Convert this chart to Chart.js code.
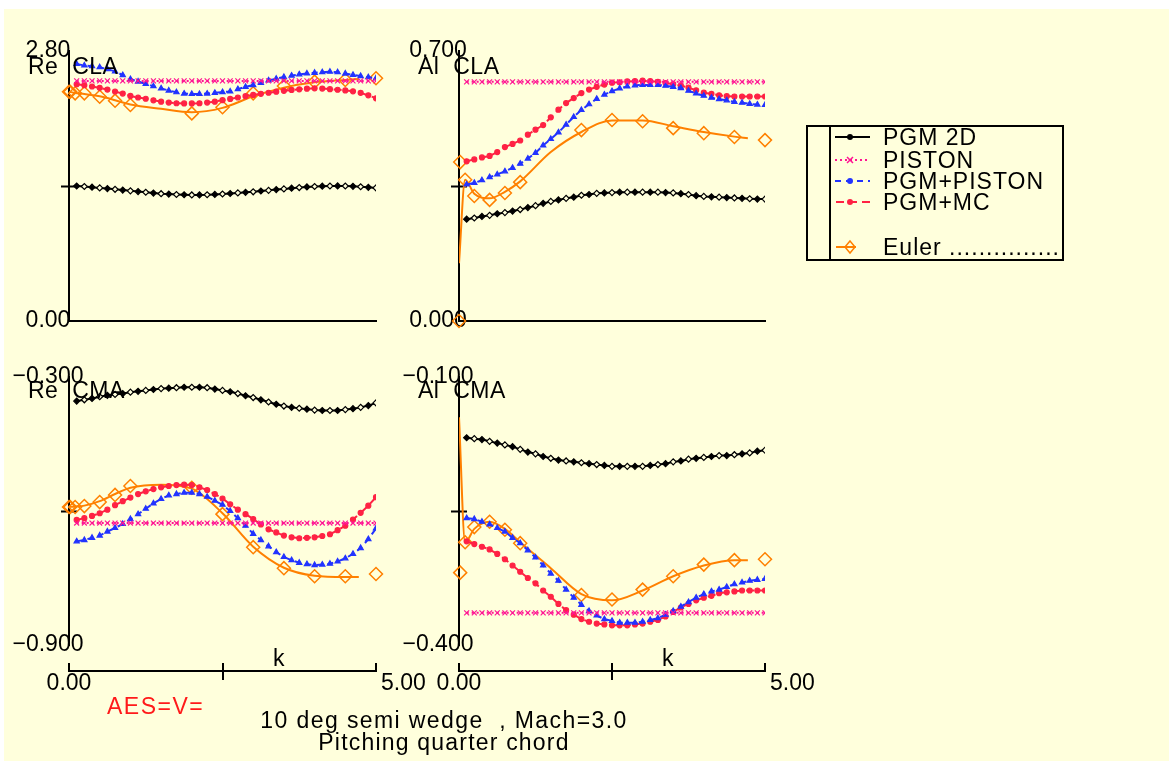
<!DOCTYPE html>
<html>
<head>
<meta charset="utf-8">
<script src="https://cdn.jsdelivr.net/npm/chart.js@4.4.0/dist/chart.umd.min.js"></script>
<style>
  body { margin: 0; width: 1169px; height: 761px; overflow: hidden; position: relative; background: #fff;
         font-family: "Liberation Sans", Arial, sans-serif; }
  #sheet { position: absolute; left: 4px; top: 9px; width: 1165px; height: 752px; background: #ffffdc; }
  canvas { position: absolute; left: 0; top: 0; }
  .t { position: absolute; font-size: 23px; line-height: 23px; white-space: pre; color: #000; letter-spacing: 0.5px; }
  #legend { position: absolute; left: 806px; top: 125px; width: 254px; height: 132px; border: 2px solid #000; }
  #legend .t { letter-spacing: 1px; }
</style>
</head>
<body>
<div id="sheet"></div>
<canvas id="reCLA" width="1169" height="761"></canvas>
<canvas id="alCLA" width="1169" height="761"></canvas>
<canvas id="reCMA" width="1169" height="761"></canvas>
<canvas id="alCMA" width="1169" height="761"></canvas>
<canvas id="axisL" width="1169" height="761"></canvas>
<canvas id="axisR" width="1169" height="761"></canvas>

<div class="t" style="left:28px;top:55px">Re  CLA</div>
<div class="t" style="left:418px;top:55px">Al  CLA</div>
<div class="t" style="left:28px;top:379px">Re  CMA</div>
<div class="t" style="left:418px;top:379px">Al  CMA</div>
<div class="t" style="left:273px;top:647px">k</div>
<div class="t" style="left:662px;top:647px">k</div>
<div class="t" style="left:107px;top:695px;color:#ff1a1a;letter-spacing:1.5px">AES=V=</div>
<div class="t" style="left:194px;top:709px;width:500px;text-align:center;letter-spacing:1.4px">10 deg semi wedge  , Mach=3.0</div>
<div class="t" style="left:194px;top:731px;width:500px;text-align:center;letter-spacing:1.2px">Pitching quarter chord</div>

<div id="legend">
  <svg width="254" height="132" style="position:absolute;left:0;top:0">
    <line x1="22" y1="0" x2="22" y2="132" stroke="#000" stroke-width="2"/>
    <line x1="27" y1="10" x2="62" y2="10" stroke="#000" stroke-width="2"/>
    <circle cx="42" cy="10" r="3" fill="#000"/>
    <line x1="27" y1="33" x2="62" y2="33" stroke="#ff1493" stroke-width="2" stroke-dasharray="2 3"/>
    <path d="M39 30 L45 36 M45 30 L39 36" stroke="#ff1493" stroke-width="1.5"/>
    <line x1="27" y1="54" x2="62" y2="54" stroke="#2233ff" stroke-width="2" stroke-dasharray="6 5"/>
    <circle cx="42" cy="54" r="3" fill="#2233ff"/>
    <line x1="28" y1="75" x2="62" y2="75" stroke="#ff2244" stroke-width="2" stroke-dasharray="8 5"/>
    <circle cx="42" cy="75" r="3" fill="#ff2244"/>
    <line x1="28" y1="120" x2="48" y2="120" stroke="#ff8000" stroke-width="2"/>
    <path d="M42 114 L47 120 L42 126 L37 120 Z" fill="none" stroke="#ff8000" stroke-width="1.5"/>
  </svg>
  <div class="t" style="left:75px;top:-1px">PGM 2D</div>
  <div class="t" style="left:75px;top:22px">PISTON</div>
  <div class="t" style="left:75px;top:43px">PGM+PISTON</div>
  <div class="t" style="left:75px;top:64px">PGM+MC</div>
  <div class="t" style="left:75px;top:109px">Euler ...............</div>
</div>

<script>
// reduced frequency k for the model curves
const kGrid = [0.125, 0.25, 0.375, 0.5, 0.625, 0.75, 0.875, 1, 1.125, 1.25, 1.375, 1.5, 1.625, 1.75, 1.875, 2,
  2.125, 2.25, 2.375, 2.5, 2.625, 2.75, 2.875, 3, 3.125, 3.25, 3.375, 3.5, 3.625, 3.75, 3.875, 4,
  4.125, 4.25, 4.375, 4.5, 4.625, 4.75, 4.875, 5];

// Euler points and the fitted Euler curve
const eulerK = [0, 0.02, 0.1, 0.25, 0.5, 0.75, 1, 2, 2.5, 3, 3.5, 4, 4.5, 5];
const eulerLineK = [0, 0.1, 0.25, 0.5, 0.75, 1, 1.5, 2, 2.5, 3, 3.5, 4, 4.5, 4.72];

// Re CLA
const reCLA_pgm2d = [1.400, 1.395, 1.388, 1.380, 1.373, 1.366, 1.358, 1.350, 1.342, 1.335, 1.327, 1.320, 1.316, 1.312, 1.309, 1.307,
  1.307, 1.309, 1.313, 1.317, 1.322, 1.328, 1.334, 1.340, 1.348, 1.355, 1.363, 1.370, 1.377, 1.384, 1.390, 1.395,
  1.398, 1.400, 1.401, 1.400, 1.397, 1.392, 1.386, 1.380];
const reCLA_piston = [2.49, 2.49, 2.49, 2.49, 2.49, 2.49, 2.49, 2.49, 2.49, 2.49, 2.49, 2.49, 2.49, 2.49, 2.49, 2.49,
  2.49, 2.49, 2.49, 2.49, 2.49, 2.49, 2.49, 2.49, 2.49, 2.49, 2.49, 2.49, 2.49, 2.49, 2.49, 2.49,
  2.49, 2.49, 2.49, 2.49, 2.49, 2.49, 2.49, 2.49];
const reCLA_pgmPiston = [2.665, 2.650, 2.642, 2.632, 2.612, 2.588, 2.550, 2.508, 2.483, 2.460, 2.435, 2.412, 2.390, 2.372, 2.358, 2.354,
  2.354, 2.358, 2.366, 2.374, 2.380, 2.405, 2.428, 2.447, 2.470, 2.495, 2.513, 2.530, 2.545, 2.558, 2.567, 2.574,
  2.580, 2.585, 2.580, 2.566, 2.552, 2.540, 2.528, 2.517];
const reCLA_pgmMc = [2.455, 2.445, 2.432, 2.418, 2.400, 2.380, 2.358, 2.334, 2.318, 2.305, 2.288, 2.275, 2.265, 2.258, 2.256, 2.256,
  2.258, 2.265, 2.275, 2.290, 2.303, 2.318, 2.332, 2.344, 2.356, 2.367, 2.378, 2.387, 2.396, 2.403, 2.409, 2.413,
  2.410, 2.404, 2.398, 2.391, 2.382, 2.366, 2.340, 2.309];
const reCLA_euler = [2.378, 2.378, 2.361, 2.361, 2.326, 2.285, 2.240, 2.153, 2.216, 2.361, 2.437, 2.482, 2.500, 2.517];
const reCLA_eulerLine = [2.378, 2.365, 2.355, 2.330, 2.290, 2.245, 2.200, 2.165, 2.210, 2.330, 2.420, 2.475, 2.500, 2.510];

// Al CLA
const alCLA_pgm2d = [0.264, 0.267, 0.271, 0.274, 0.278, 0.281, 0.285, 0.289, 0.294, 0.299, 0.305, 0.310, 0.314, 0.318, 0.321, 0.326,
  0.328, 0.331, 0.332, 0.333, 0.334, 0.334, 0.334, 0.334, 0.334, 0.334, 0.333, 0.332, 0.330, 0.328, 0.325, 0.323,
  0.322, 0.321, 0.320, 0.319, 0.318, 0.317, 0.316, 0.316];
const alCLA_piston = [0.62, 0.62, 0.62, 0.62, 0.62, 0.62, 0.62, 0.62, 0.62, 0.62, 0.62, 0.62, 0.62, 0.62, 0.62, 0.62,
  0.62, 0.62, 0.62, 0.62, 0.62, 0.62, 0.62, 0.62, 0.62, 0.62, 0.62, 0.62, 0.62, 0.62, 0.62, 0.62,
  0.62, 0.62, 0.62, 0.62, 0.62, 0.62, 0.62, 0.62];
const alCLA_pgmPiston = [0.354, 0.358, 0.365, 0.373, 0.380, 0.388, 0.397, 0.408, 0.421, 0.436, 0.455, 0.472, 0.489, 0.509, 0.529, 0.547,
  0.562, 0.576, 0.587, 0.596, 0.603, 0.608, 0.611, 0.612, 0.612, 0.612, 0.610, 0.607, 0.604, 0.597, 0.590, 0.584,
  0.579, 0.575, 0.572, 0.568, 0.566, 0.563, 0.561, 0.560];
const alCLA_pgmMc = [0.414, 0.419, 0.424, 0.428, 0.438, 0.451, 0.459, 0.468, 0.483, 0.496, 0.508, 0.528, 0.548, 0.565, 0.578, 0.591,
  0.600, 0.607, 0.613, 0.618, 0.619, 0.621, 0.622, 0.623, 0.622, 0.620, 0.617, 0.614, 0.610, 0.605, 0.598, 0.592,
  0.589, 0.585, 0.583, 0.582, 0.582, 0.582, 0.582, 0.582];
const alCLA_euler = [0, 0.412, 0.366, 0.324, 0.314, 0.332, 0.360, 0.495, 0.521, 0.518, 0.500, 0.487, 0.477, 0.469];
const alCLA_eulerLine = [0.150, 0.366, 0.330, 0.318, 0.335, 0.362, 0.438, 0.490, 0.520, 0.520, 0.505, 0.490, 0.478, 0.474];

// Re CMA
const reCMA_pgm2d = [-0.354, -0.351, -0.348, -0.344, -0.341, -0.339, -0.337, -0.334, -0.332, -0.330, -0.328, -0.326, -0.325, -0.324, -0.323, -0.323,
  -0.323, -0.324, -0.327, -0.330, -0.333, -0.337, -0.342, -0.346, -0.351, -0.356, -0.361, -0.365, -0.368, -0.370, -0.372, -0.374,
  -0.375, -0.375, -0.375, -0.373, -0.371, -0.368, -0.364, -0.358];
const reCMA_piston = [-0.627, -0.627, -0.627, -0.627, -0.627, -0.627, -0.627, -0.627, -0.627, -0.627, -0.627, -0.627, -0.627, -0.627, -0.627, -0.627,
  -0.627, -0.627, -0.627, -0.627, -0.627, -0.627, -0.627, -0.627, -0.627, -0.627, -0.627, -0.627, -0.627, -0.627, -0.627, -0.627,
  -0.627, -0.627, -0.627, -0.627, -0.627, -0.627, -0.627, -0.627];
const reCMA_pgmPiston = [-0.668, -0.665, -0.660, -0.655, -0.646, -0.638, -0.629, -0.618, -0.607, -0.595, -0.583, -0.573, -0.565, -0.562, -0.559, -0.559,
  -0.562, -0.568, -0.577, -0.586, -0.600, -0.616, -0.633, -0.651, -0.665, -0.679, -0.692, -0.703, -0.710, -0.716, -0.719, -0.721,
  -0.720, -0.718, -0.713, -0.706, -0.696, -0.683, -0.663, -0.639];
const reCMA_pgmMc = [-0.620, -0.616, -0.611, -0.605, -0.597, -0.587, -0.578, -0.570, -0.562, -0.556, -0.551, -0.547, -0.544, -0.542, -0.541, -0.542,
  -0.547, -0.553, -0.562, -0.572, -0.585, -0.597, -0.607, -0.618, -0.630, -0.641, -0.648, -0.655, -0.659, -0.661, -0.660, -0.659,
  -0.656, -0.652, -0.643, -0.633, -0.619, -0.604, -0.588, -0.569];
const reCMA_euler = [-0.591, -0.591, -0.591, -0.589, -0.580, -0.564, -0.544, -0.548, -0.607, -0.681, -0.728, -0.746, -0.746, -0.741];
const reCMA_eulerLine = [-0.591, -0.590, -0.588, -0.578, -0.562, -0.548, -0.541, -0.550, -0.605, -0.680, -0.727, -0.745, -0.748, -0.748];

// Al CMA
const alCMA_pgm2d = [-0.168, -0.169, -0.170, -0.172, -0.174, -0.176, -0.178, -0.181, -0.184, -0.186, -0.189, -0.191, -0.193, -0.194, -0.195, -0.196,
  -0.197, -0.198, -0.199, -0.200, -0.200, -0.200, -0.200, -0.200, -0.199, -0.198, -0.197, -0.195, -0.194, -0.192, -0.191, -0.190,
  -0.189, -0.188, -0.188, -0.187, -0.186, -0.185, -0.183, -0.182];
const alCMA_piston = [-0.364, -0.364, -0.364, -0.364, -0.364, -0.364, -0.364, -0.364, -0.364, -0.364, -0.364, -0.364, -0.364, -0.364, -0.364, -0.364,
  -0.364, -0.364, -0.364, -0.364, -0.364, -0.364, -0.364, -0.364, -0.364, -0.364, -0.364, -0.364, -0.364, -0.364, -0.364, -0.364,
  -0.364, -0.364, -0.364, -0.364, -0.364, -0.364, -0.364, -0.364];
const alCMA_pgmPiston = [-0.258, -0.259, -0.262, -0.265, -0.269, -0.273, -0.280, -0.286, -0.294, -0.302, -0.311, -0.320, -0.328, -0.338, -0.347, -0.355,
  -0.362, -0.367, -0.371, -0.373, -0.375, -0.375, -0.375, -0.374, -0.372, -0.370, -0.366, -0.362, -0.357, -0.352, -0.347, -0.343,
  -0.340, -0.338, -0.335, -0.332, -0.330, -0.328, -0.327, -0.326];
const alCMA_pgmMc = [-0.284, -0.287, -0.290, -0.293, -0.298, -0.304, -0.311, -0.318, -0.325, -0.331, -0.339, -0.346, -0.354, -0.361, -0.366, -0.371,
  -0.374, -0.376, -0.377, -0.378, -0.378, -0.378, -0.377, -0.376, -0.374, -0.372, -0.368, -0.363, -0.358, -0.354, -0.350, -0.347,
  -0.345, -0.342, -0.341, -0.340, -0.339, -0.339, -0.339, -0.339];
const alCMA_euler = [null, -0.319, -0.285, -0.268, -0.262, -0.271, -0.286, -0.344, -0.349, -0.338, -0.323, -0.310, -0.305, -0.304];
const alCMA_eulerLine = [-0.145, -0.285, -0.270, -0.262, -0.270, -0.285, -0.314, -0.343, -0.350, -0.339, -0.323, -0.311, -0.305, -0.305];

// axis tick labels (min, mid, max)
const reCLA_ticks = ['0.00', '', '2.80'];
const alCLA_ticks = ['0.000', '', '0.700'];
const reCMA_ticks = ['\u22120.900', '', '\u22120.300'];
const alCMA_ticks = ['\u22120.400', '', '\u22120.100'];
const xTickLabels = ['0.00', '5.00'];

const W = 1169, H = 761;
const FAMILY = '"Liberation Sans", Arial, sans-serif';
const tickFont = { family: FAMILY, size: 23 };
const clear = 'rgba(0,0,0,0)';

const seriesStyles = [
  { color: '#000000', dash: [], point: 'rectRot', r: 3 },
  { color: '#ff1493', dash: [2, 3], point: 'crossRot', r: 3.5 },
  { color: '#2233ff', dash: [6, 5], point: 'triangle', r: 3 },
  { color: '#ff2244', dash: [8, 5], point: 'circle', r: 2.5 },
];
const orange = '#ff8000';

function pts(xs, ys) {
  return xs.map((x, i) => ({ x: x, y: ys[i] }));
}

// mirrored labels: left edge offset so the label sits centred ~21px left of the axis
function labelPad(labels) {
  const c = document.createElement('canvas').getContext('2d');
  c.font = '23px ' + FAMILY;
  const w = Math.max(...labels.map(s => c.measureText(s).width));
  return -21 - w / 2;
}

function makePanel(id, area, yMin, yMax, yLabels, series, euler, eulerLine, showX) {
  const datasets = series.map((vals, i) => {
    const s = seriesStyles[i];
    return {
      data: pts(kGrid, vals),
      borderColor: s.color,
      borderWidth: 2,
      borderDash: s.dash,
      pointStyle: s.point,
      pointRadius: s.r,
      pointBorderColor: s.color,
      pointBorderWidth: 1.2,
      pointBackgroundColor: i === 0 ? (c => c.dataIndex % 2 ? '#ffffdc' : '#000') : s.color,
      tension: 0,
    };
  });
  datasets.push({
    data: pts(eulerK, euler),
    showLine: false,
    pointStyle: 'rectRot',
    pointRadius: 6.5,
    pointBorderColor: orange,
    pointBorderWidth: 1.5,
    pointBackgroundColor: clear,
    clip: false,
  });
  datasets.push({
    data: pts(eulerLineK, eulerLine),
    borderColor: orange,
    borderWidth: 2,
    pointRadius: 0,
    cubicInterpolationMode: 'monotone',
  });

  new Chart(document.getElementById(id), {
    type: 'line',
    data: { datasets },
    options: {
      responsive: false,
      animation: false,
      events: [],
      layout: { padding: { left: area[0], top: area[1], right: W - area[2], bottom: H - area[3] } },
      plugins: { legend: { display: false }, tooltip: { enabled: false } },
      scales: {
        x: {
          type: 'linear', min: 0, max: 5, display: showX,
          ticks: { display: false },
          grid: { drawOnChartArea: false, drawTicks: false },
          border: { color: '#000', width: 2 },
          afterFit: s => { s.height = 0; },
        },
        y: {
          type: 'linear', position: 'left', min: yMin, max: yMax,
          ticks: {
            count: 3, font: tickFont, color: '#000', mirror: true,
            padding: labelPad(yLabels),
            callback: (v, i) => yLabels[i],
          },
          grid: {
            drawOnChartArea: false, drawTicks: true, tickLength: 8, tickWidth: 2,
            tickColor: c => c.index === 1 ? '#000' : clear,
          },
          border: { color: '#000', width: 2 },
          afterFit: s => { s.width = 0; },
        },
        yIn: {
          type: 'linear', position: 'left', min: yMin, max: yMax,
          ticks: { count: 3, display: false },
          grid: {
            drawOnChartArea: false, drawTicks: true, tickLength: -8, tickWidth: 2,
            tickColor: c => c.index === 1 ? '#000' : clear,
          },
          border: { display: false },
          afterFit: s => { s.width = 0; },
        },
      },
    },
  });
}

function makeAxis(id, x0, x1) {
  new Chart(document.getElementById(id), {
    type: 'line',
    data: { datasets: [] },
    options: {
      responsive: false,
      animation: false,
      events: [],
      layout: { padding: { left: x0, right: W - x1, top: 663, bottom: H - 671 } },
      plugins: { legend: { display: false }, tooltip: { enabled: false } },
      scales: {
        y: { display: false },
        x: {
          type: 'linear', position: 'bottom', min: 0, max: 5,
          ticks: { stepSize: 2.5, font: tickFont, color: '#000', mirror: true, padding: -26, maxRotation: 0,
                   callback: (v, i) => i === 0 ? xTickLabels[0] : '' },
          grid: { color: '#000', lineWidth: 2, drawTicks: true, tickLength: 9, tickWidth: 2,
                  tickColor: c => c.index === 1 ? '#000' : clear },
          border: { color: '#000', width: 2 },
          afterFit: s => { s.height = 0; },
        },
        x5: {
          type: 'linear', position: 'bottom', min: 0, max: 5,
          ticks: { stepSize: 2.5, font: tickFont, color: '#000', mirror: true, padding: -26, maxRotation: 0,
                   align: 'start', labelOffset: 5,
                   callback: (v, i, t) => i === t.length - 1 ? xTickLabels[1] : '' },
          grid: { display: false, drawTicks: false },
          border: { display: false },
          afterFit: s => { s.height = 0; },
        },
      },
    },
  });
}

makePanel('reCLA', [69, 51, 376, 321], 0, 2.8, reCLA_ticks,
  [reCLA_pgm2d, reCLA_piston, reCLA_pgmPiston, reCLA_pgmMc], reCLA_euler, reCLA_eulerLine, true);
makePanel('alCLA', [459, 51, 765, 321], 0, 0.7, alCLA_ticks,
  [alCLA_pgm2d, alCLA_piston, alCLA_pgmPiston, alCLA_pgmMc], alCLA_euler, alCLA_eulerLine, true);
makePanel('reCMA', [69, 377, 376, 645], -0.9, -0.3, reCMA_ticks,
  [reCMA_pgm2d, reCMA_piston, reCMA_pgmPiston, reCMA_pgmMc], reCMA_euler, reCMA_eulerLine, false);
makePanel('alCMA', [459, 377, 765, 645], -0.4, -0.1, alCMA_ticks,
  [alCMA_pgm2d, alCMA_piston, alCMA_pgmPiston, alCMA_pgmMc], alCMA_euler, alCMA_eulerLine, false);

makeAxis('axisL', 69, 376);
makeAxis('axisR', 459, 765);
</script>
</body>
</html>
